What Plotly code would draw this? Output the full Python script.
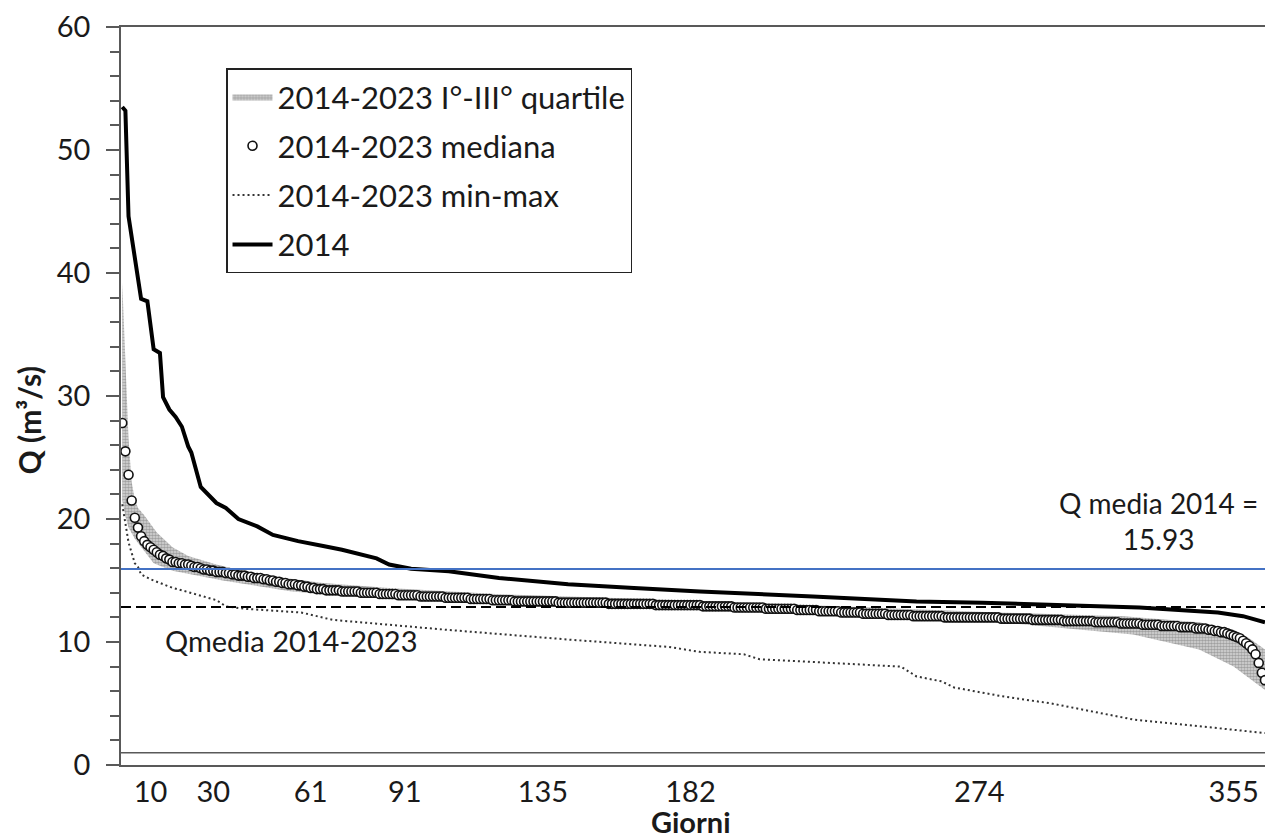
import plotly.graph_objects as go

# ---------------- data ----------------
days_2014 = [1, 2, 3, 4, 5, 6, 7, 9, 11, 13, 14, 16, 18, 20, 22, 23, 26, 31, 34, 38, 44, 49, 57,
             65, 71, 82, 86, 93, 98, 105, 121, 143, 164, 185, 221, 254, 275, 300, 325, 350, 358, 365]
q_2014 = [53.5, 53.2, 44.6, 43.0, 41.3, 39.6, 37.9, 37.7, 33.8, 33.5, 29.9, 28.9, 28.3, 27.5, 25.9,
          25.4, 22.6, 21.3, 20.9, 20.0, 19.4, 18.7, 18.2, 17.8, 17.5, 16.8, 16.3, 15.95, 15.9, 15.75,
          15.2, 14.7, 14.4, 14.1, 13.7, 13.3, 13.2, 13.0, 12.8, 12.4, 12.1, 11.6]

median_days = list(range(1, 366))
median_q = [
    27.8, 25.5, 23.6, 21.5, 20.1, 19.3, 18.6, 18.2, 17.9, 17.7,   # 1-10
    17.5, 17.3, 17.1, 17.0, 16.8, 16.7, 16.5, 16.5, 16.4, 16.4,   # 11-20
    16.3, 16.3, 16.2, 16.1, 16.1, 16.0, 15.9, 15.9, 15.8, 15.8,   # 21-30
    15.7, 15.7, 15.7, 15.6, 15.6, 15.5, 15.5, 15.4, 15.4, 15.4,   # 31-40
    15.3, 15.3, 15.2, 15.2, 15.2, 15.1, 15.1, 15.0, 15.0, 14.9,   # 41-50
    14.9, 14.8, 14.8, 14.7, 14.7, 14.7, 14.6, 14.6, 14.5, 14.5,   # 51-60
    14.4, 14.4, 14.3, 14.3, 14.3, 14.2, 14.2, 14.2, 14.2, 14.2,   # 61-70
    14.1, 14.1, 14.1, 14.1, 14.1, 14.1, 14.0, 14.0, 14.0, 14.0,   # 71-80
    14.0, 14.0, 13.9, 13.9, 13.9, 13.9, 13.9, 13.9, 13.8, 13.8,   # 81-90
    13.8, 13.8, 13.8, 13.8, 13.8, 13.7, 13.7, 13.7, 13.7, 13.7,   # 91-100
    13.7, 13.7, 13.7, 13.6, 13.6, 13.6, 13.6, 13.6, 13.6, 13.6,   # 101-110
    13.6, 13.5, 13.5, 13.5, 13.5, 13.5, 13.5, 13.5, 13.4, 13.4,   # 111-120
    13.4, 13.4, 13.4, 13.4, 13.4, 13.3, 13.3, 13.3, 13.3, 13.3,   # 121-130
    13.3, 13.3, 13.3, 13.3, 13.3, 13.3, 13.3, 13.3, 13.3, 13.2,   # 131-140
    13.2, 13.2, 13.2, 13.2, 13.2, 13.2, 13.2, 13.2, 13.2, 13.2,   # 141-150
    13.2, 13.2, 13.2, 13.2, 13.2, 13.1, 13.1, 13.1, 13.1, 13.1,   # 151-160
    13.1, 13.1, 13.1, 13.1, 13.1, 13.1, 13.1, 13.1, 13.1, 13.1,   # 161-170
    13.0, 13.0, 13.0, 13.0, 13.0, 13.0, 13.0, 13.0, 13.0, 13.0,   # 171-180
    13.0, 13.0, 13.0, 13.0, 13.0, 12.9, 12.9, 12.9, 12.9, 12.9,   # 181-190
    12.9, 12.9, 12.9, 12.9, 12.9, 12.8, 12.8, 12.8, 12.8, 12.8,   # 191-200
    12.8, 12.8, 12.8, 12.8, 12.8, 12.7, 12.7, 12.7, 12.7, 12.7,   # 201-210
    12.7, 12.7, 12.7, 12.7, 12.7, 12.6, 12.6, 12.6, 12.6, 12.6,   # 211-220
    12.6, 12.6, 12.5, 12.5, 12.5, 12.5, 12.5, 12.5, 12.5, 12.4,   # 221-230
    12.4, 12.4, 12.4, 12.4, 12.4, 12.4, 12.3, 12.3, 12.3, 12.3,   # 231-240
    12.3, 12.3, 12.3, 12.3, 12.2, 12.2, 12.2, 12.2, 12.2, 12.2,   # 241-250
    12.2, 12.2, 12.1, 12.1, 12.1, 12.1, 12.1, 12.1, 12.1, 12.1,   # 251-260
    12.1, 12.1, 12.0, 12.0, 12.0, 12.0, 12.0, 12.0, 12.0, 12.0,   # 261-270
    12.0, 12.0, 12.0, 12.0, 12.0, 12.0, 12.0, 12.0, 12.0, 12.0,   # 271-280
    11.9, 11.9, 11.9, 11.9, 11.9, 11.9, 11.9, 11.9, 11.9, 11.9,   # 281-290
    11.8, 11.8, 11.8, 11.8, 11.8, 11.8, 11.8, 11.8, 11.8, 11.8,   # 291-300
    11.7, 11.7, 11.7, 11.7, 11.7, 11.7, 11.7, 11.7, 11.7, 11.7,   # 301-310
    11.6, 11.6, 11.6, 11.6, 11.6, 11.6, 11.6, 11.6, 11.5, 11.5,   # 311-320
    11.5, 11.5, 11.5, 11.5, 11.5, 11.4, 11.4, 11.4, 11.4, 11.4,   # 321-330
    11.4, 11.3, 11.3, 11.3, 11.3, 11.3, 11.3, 11.2, 11.2, 11.2,   # 331-340
    11.2, 11.2, 11.1, 11.1, 11.1, 11.1, 11.0, 11.0, 10.9, 10.9,   # 341-350
    10.8, 10.8, 10.7, 10.6, 10.5, 10.4, 10.3, 10.1, 9.9, 9.7,     # 351-360
    9.4, 9.0, 8.3, 7.5, 6.9,                                      # 361-365
]

q3_days = [1, 2, 3, 4, 5, 6, 8, 12, 17, 22, 31, 44, 65, 86, 120, 180, 230, 280, 320, 344, 355, 360, 365]
q3_vals = [39.2, 33.0, 26.5, 23.0, 21.6, 20.9, 20.3, 18.9, 17.7, 17.0, 16.3, 15.5, 14.8, 14.4, 13.9,
           13.4, 12.9, 12.4, 12.1, 11.6, 11.0, 10.3, 9.4]
q1_days = [1, 2, 3, 4, 5, 8, 11, 17, 29, 33, 55, 86, 120, 180, 230, 281, 323, 344, 355, 365]
q1_vals = [21.5, 20.2, 19.3, 18.8, 18.4, 17.4, 16.4, 15.8, 15.2, 15.0, 14.1, 13.5, 13.1, 12.7, 12.2,
           11.6, 10.6, 9.4, 8.0, 6.1]

min_days = [1, 3, 5, 6, 7, 10, 17, 20, 31, 34, 40, 58, 68, 104, 143, 153, 175, 185, 199, 204, 249,
            254, 262, 266, 281, 297, 323, 365]
min_vals = [21.2, 18.1, 16.4, 16.1, 15.5, 15.1, 14.4, 14.2, 13.4, 12.9, 12.7, 12.4, 11.8, 11.0, 10.2,
            10.0, 9.6, 9.2, 9.0, 8.6, 8.0, 7.2, 6.8, 6.3, 5.6, 5.0, 3.7, 2.6]

q_media_2014 = 15.93
q_media_period = 12.85
q_ref_line = 1.0

x_ticks = [10, 30, 61, 91, 135, 182, 274, 355]

FONT = "Lato"
TXT = "#1a1a1a"
AX = "#595959"

fig = go.Figure()

# quartile band
fig.add_trace(go.Scatter(x=q1_days, y=q1_vals, mode="lines", line=dict(width=0),
                         showlegend=False, hoverinfo="skip", legendgroup="g1"))
fig.add_trace(go.Scatter(x=q3_days, y=q3_vals, mode="lines", line=dict(width=0),
                         fill="tonexty", fillcolor="rgba(140,140,140,0.6)",
                         fillpattern=dict(shape=".", fgcolor="#666666", bgcolor="#dadada",
                                          size=3, solidity=0.6),
                         name="2014-2023 I°-III° quartile", legendgroup="g1", legendrank=1))
# min line
fig.add_trace(go.Scatter(x=min_days, y=min_vals, mode="lines",
                         line=dict(color="#333333", width=2, dash="2px,3px"),
                         name="2014-2023 min-max", legendgroup="g3", legendrank=3))
# median circles
fig.add_trace(go.Scatter(x=median_days, y=median_q, mode="markers",
                         marker=dict(symbol="circle", size=9, color="white",
                                     line=dict(color="#111111", width=1.6)),
                         name="2014-2023 mediana", legendgroup="g2", legendrank=2))
# 2014
fig.add_trace(go.Scatter(x=days_2014, y=q_2014, mode="lines",
                         line=dict(color="black", width=4),
                         name="2014", legendgroup="g4", legendrank=4))

# reference lines
fig.add_shape(type="line", xref="paper", x0=0, x1=1, yref="y", y0=q_media_2014, y1=q_media_2014,
              line=dict(color="#4472C4", width=2), layer="above")
fig.add_shape(type="line", xref="paper", x0=0, x1=1, yref="y", y0=q_media_period, y1=q_media_period,
              line=dict(color="black", width=2, dash="10px,5px"), layer="above")
fig.add_shape(type="line", xref="paper", x0=0, x1=1, yref="y", y0=q_ref_line, y1=q_ref_line,
              line=dict(color=AX, width=1.5), layer="above")

# annotations
fig.add_annotation(x=331, y=19.8, xref="x", yref="y", xanchor="center", yanchor="middle",
                   text=f"Q media 2014 =<br>{q_media_2014:.2f}", showarrow=False,
                   font=dict(family=FONT, size=28, color=TXT), align="center")
fig.add_annotation(x=14, y=10.15, xref="x", yref="y", xanchor="left", yanchor="middle",
                   text="Qmedia 2014-2023", showarrow=False,
                   font=dict(family=FONT, size=29, color=TXT))
fig.add_annotation(x=-0.080, y=0.4675, xref="paper", yref="paper", textangle=-90,
                   xanchor="center", yanchor="middle",
                   text="<b>Q (m³/s)</b>", showarrow=False,
                   font=dict(family=FONT, size=30, color=TXT))
fig.add_annotation(x=0.4985, y=-0.0765, xref="paper", yref="paper",
                   xanchor="center", yanchor="middle",
                   text="<b>Giorni</b>", showarrow=False,
                   font=dict(family=FONT, size=29, color=TXT))

fig.update_layout(
    width=1265, height=839,
    margin=dict(l=121, r=0, t=27, b=74),
    paper_bgcolor="white", plot_bgcolor="white",
    font=dict(family=FONT, size=29, color=TXT),
    showlegend=True,
    legend=dict(x=0.0918, y=0.944, xanchor="left", yanchor="top",
                bordercolor="#222222", borderwidth=1.5, bgcolor="white",
                font=dict(family=FONT, size=31, color=TXT),
                tracegroupgap=6, traceorder="grouped", itemwidth=40),
    xaxis=dict(range=[0.6, 365], tickmode="array", tickvals=x_ticks, automargin=False,
               showgrid=False, zeroline=False, showline=True, linecolor=AX,
               linewidth=1.5, mirror=True, ticks="", ticklabelstandoff=0),
    yaxis=dict(range=[0, 60], tickmode="array", tickvals=[0, 10, 20, 30, 40, 50, 60],
               automargin=False,
               showgrid=False, zeroline=False, showline=True, linecolor=AX,
               linewidth=1.5, ticks="outside", ticklen=13, tickwidth=1.5, tickcolor=AX,
               ticklabelstandoff=10,
               minor=dict(tickvals=[v for v in range(0, 61, 2) if v % 10], ticks="outside",
                          ticklen=9, tickwidth=1.5, tickcolor=AX)),
)

# remove the browser's default 8px page margin so the figure fills the window exactly
fig.write_html("out.html", config={"displayModeBar": False},
               post_script="document.body.style.margin='0';document.body.style.overflow='hidden';")
